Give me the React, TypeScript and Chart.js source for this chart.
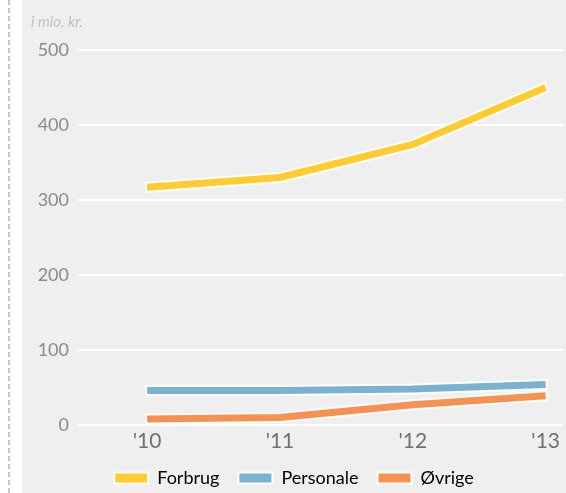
import React, { useEffect, useRef } from "react";
import { Chart, registerables } from "chart.js";

Chart.register(...registerables);

const categories = ["'10", "'11", "'12", "'13"];
const seriesNames = ["Forbrug", "Personale", "Øvrige"];
const forbrug = [317, 330, 374, 450];
const personale = [46, 46, 48, 54];
const ovrige = [8, 10, 27, 39];
const yTicks = [0, 100, 200, 300, 400, 500];
const unitLabel = "i mio. kr.";

const colors = ["#ffcb2f", "#7ab3d2", "#f79150"];

const outlinePlugin = {
  id: "whiteOutline",
  beforeDatasetDraw(chart: any, args: any) {
    const meta = chart.getDatasetMeta(args.index);
    const pts = meta.data;
    if (!pts || pts.length < 2) return;
    const ctx = chart.ctx;
    const ext = 2;
    const p0 = pts[0], p1 = pts[1];
    const d0 = Math.hypot(p1.x - p0.x, p1.y - p0.y) || 1;
    const a = pts[pts.length - 2], b = pts[pts.length - 1];
    const d1 = Math.hypot(b.x - a.x, b.y - a.y) || 1;
    ctx.save();
    ctx.beginPath();
    ctx.moveTo(p0.x - ((p1.x - p0.x) / d0) * ext, p0.y - ((p1.y - p0.y) / d0) * ext);
    for (let i = 1; i < pts.length - 1; i++) ctx.lineTo(pts[i].x, pts[i].y);
    ctx.lineTo(b.x + ((b.x - a.x) / d1) * ext, b.y + ((b.y - a.y) / d1) * ext);
    ctx.lineWidth = 11;
    ctx.strokeStyle = "#ffffff";
    ctx.lineJoin = "miter";
    ctx.lineCap = "butt";
    ctx.stroke();
    ctx.restore();
  },
};

export default function App() {
  const ref = useRef<HTMLCanvasElement>(null);

  useEffect(() => {
    if (!ref.current) return;
    const series = [forbrug, personale, ovrige];
    const chart = new Chart(ref.current, {
      type: "line",
      data: {
        datasets: series.map((vals, si) => ({
          label: seriesNames[si],
          data: vals.map((y, i) => ({ x: i, y })),
          borderColor: colors[si],
          backgroundColor: colors[si],
          borderWidth: 7,
          pointRadius: 0,
          borderJoinStyle: "miter" as const,
          borderCapStyle: "butt" as const,
          tension: 0,
          clip: false as any,
        })),
      },
      options: {
        animation: false,
        responsive: false,
        maintainAspectRatio: false,
        layout: { padding: { top: 50, left: 0, right: 0, bottom: -4 } },
        plugins: {
          tooltip: { enabled: false },
          title: { display: false },
          legend: {
            position: "bottom",
            labels: {
              boxWidth: 34,
              boxHeight: 11,
              padding: 19,
              color: "#737373",
              font: { family: "Lato", size: 18 },
              generateLabels: () =>
                seriesNames.map((name, i) => ({
                  text: name,
                  fillStyle: colors[i],
                  strokeStyle: "#ffffff",
                  lineWidth: 2,
                  hidden: false,
                  datasetIndex: i,
                })),
            },
          },
        },
        scales: {
          x: {
            type: "linear",
            min: -0.52,
            max: 3.13,
            afterBuildTicks: (scale: any) => {
              scale.ticks = categories.map((_, i) => ({ value: i }));
            },
            afterFit: (scale: any) => {
              scale.height = 25;
            },
            ticks: {
              autoSkip: false,
              maxRotation: 0,
              padding: 6,
              color: "#707070",
              font: { family: "Lato", size: 21, lineHeight: 1 },
              callback: (v: any) => categories[v] ?? "",
            },
            grid: { display: false, drawTicks: false },
            border: { display: false },
          },
          y: {
            min: 0,
            max: 500,
            afterBuildTicks: (scale: any) => {
              scale.ticks = yTicks.map((v) => ({ value: v }));
            },
            afterFit: (scale: any) => {
              scale.width = 56;
            },
            ticks: {
              padding: 9,
              color: "#8a8a8a",
              font: { family: "Lato", size: 18 },
            },
            grid: { color: "#ffffff", lineWidth: 2, drawTicks: false },
            border: { display: false },
          },
        },
      },
      plugins: [outlinePlugin],
    });
    return () => chart.destroy();
  }, []);

  return (
    <div
      style={{
        position: "fixed",
        left: 0,
        top: 0,
        width: 566,
        height: 493,
        background: "#ffffff",
        overflow: "hidden",
      }}
    >
      <div
        style={{
          position: "absolute",
          left: 8,
          top: 0,
          width: 2,
          height: 493,
          background:
            "repeating-linear-gradient(to bottom, #c8c8c8 0px, #c8c8c8 5px, transparent 5px, transparent 8px)",
        }}
      />
      <div
        style={{
          position: "absolute",
          left: 22,
          top: 0,
          width: 544,
          height: 493,
          background: "#efefef",
        }}
      >
        <canvas ref={ref} width={544} height={493} style={{ display: "block" }} />
        <div
          style={{
            position: "absolute",
            left: 9,
            top: 12,
            fontFamily: "Lato",
            fontStyle: "italic",
            fontSize: 15,
            lineHeight: "18px",
            color: "#c0c0c0",
          }}
        >
          {unitLabel}
        </div>
      </div>
    </div>
  );
}
